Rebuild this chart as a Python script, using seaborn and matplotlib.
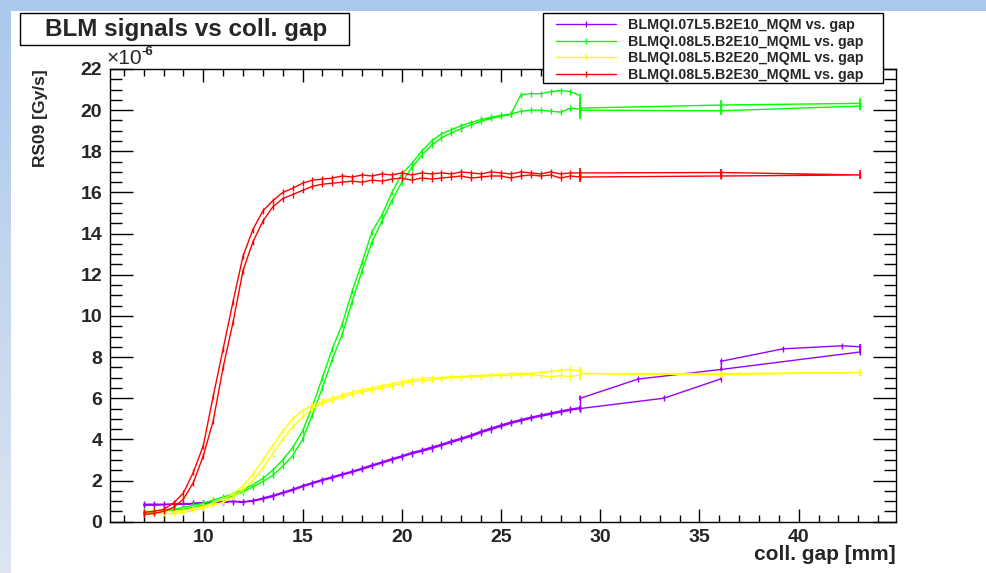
import numpy as np
import pandas as pd
import matplotlib
matplotlib.use("Agg")
import matplotlib.pyplot as plt
from matplotlib.patches import Rectangle
from matplotlib.lines import Line2D
from matplotlib.ticker import MultipleLocator
import seaborn as sns

# ---------------------------------------------------------------- data
series_names = [
    "BLMQI.07L5.B2E10_MQM vs. gap",
    "BLMQI.08L5.B2E10_MQML vs. gap",
    "BLMQI.08L5.B2E20_MQML vs. gap",
    "BLMQI.08L5.B2E30_MQML vs. gap",
]
series_colors = ["#9900FF", "#00FF00", "#FFFF00", "#FF0000"]

# fine scan grid (collimator gap, mm)
gap_fine = [7.0, 7.5, 8.0, 8.5, 9.0, 9.5, 10.0, 10.5, 11.0, 11.5,
            12.0, 12.5, 13.0, 13.5, 14.0, 14.5, 15.0, 15.5, 16.0, 16.5,
            17.0, 17.5, 18.0, 18.5, 19.0, 19.5, 20.0, 20.5, 21.0, 21.5,
            22.0, 22.5, 23.0, 23.5, 24.0, 24.5, 25.0, 25.5, 26.0, 26.5,
            27.0, 27.5, 28.0, 28.5, 29.0]

# signals in units of 1e-6 Gy/s, opening ("out") and closing ("back") branch
mqm_e10_out = [0.85, 0.85, 0.85, 0.85, 0.85, 0.87, 0.90, 0.92, 0.95, 0.97,
               0.95, 1.00, 1.10, 1.22, 1.38, 1.52, 1.70, 1.85, 2.00, 2.13,
               2.27, 2.40, 2.55, 2.70, 2.85, 3.00, 3.15, 3.30, 3.42, 3.55,
               3.70, 3.85, 4.00, 4.15, 4.33, 4.48, 4.63, 4.78, 4.90, 5.02,
               5.12, 5.22, 5.32, 5.42, 5.50]
mqm_e10_back = [0.80, 0.80, 0.82, 0.85, 0.85, 0.90, 0.92, 0.95, 0.97, 1.00,
                0.97, 1.03, 1.15, 1.28, 1.42, 1.58, 1.75, 1.90, 2.05, 2.18,
                2.32, 2.45, 2.60, 2.76, 2.90, 3.06, 3.20, 3.36, 3.48, 3.62,
                3.76, 3.92, 4.06, 4.22, 4.40, 4.55, 4.70, 4.84, 4.96, 5.08,
                5.18, 5.28, 5.38, 5.47, 5.55]
mqm_e10_coarse_gap = [29.0, 33.2, 36.1, 36.1, 39.2, 42.2, 43.1, 43.1, 36.1, 31.9, 29.0]
mqm_e10_coarse_sig = [5.50, 6.00, 6.95, 7.80, 8.40, 8.55, 8.50, 8.25, 7.40, 6.93, 6.00]
mqm_e10_coarse_err = [0.10, 0.05, 0.05, 0.05, 0.05, 0.05, 0.15, 0.10, 0.05, 0.05, 0.10]

mqml_e10_out = [0.50, 0.50, 0.55, 0.60, 0.70, 0.80, 0.90, 1.05, 1.20, 1.35,
                1.55, 1.80, 2.10, 2.50, 3.00, 3.60, 4.40, 5.60, 7.00, 8.40,
                9.60, 11.2, 12.6, 14.1, 14.9, 16.0, 16.9, 17.4, 18.0, 18.5,
                18.85, 19.05, 19.25, 19.4, 19.55, 19.65, 19.75, 19.8, 20.75, 20.8,
                20.8, 20.9, 20.95, 20.9, 20.7]
mqml_e10_back = [0.40, 0.45, 0.50, 0.55, 0.60, 0.70, 0.80, 0.95, 1.10, 1.25,
                 1.45, 1.70, 1.95, 2.25, 2.70, 3.20, 4.00, 5.20, 6.50, 7.90,
                 9.10, 10.7, 12.2, 13.6, 14.6, 15.6, 16.5, 17.2, 17.8, 18.3,
                 18.65, 18.9, 19.1, 19.3, 19.45, 19.6, 19.7, 19.8, 19.95, 20.0,
                 20.0, 19.95, 19.9, 20.1, 20.05]
mqml_e10_coarse_gap = [29.0, 36.1, 43.1, 43.1, 36.1, 29.0]
mqml_e10_coarse_sig = [20.1, 20.25, 20.33, 20.2, 19.97, 20.0]
mqml_e10_coarse_err = [0.55, 0.25, 0.25, 0.20, 0.20, 0.40]

mqml_e20_out = [0.45, 0.50, 0.50, 0.50, 0.55, 0.65, 0.75, 0.90, 1.10, 1.35,
                1.75, 2.30, 3.00, 3.70, 4.40, 5.00, 5.40, 5.65, 5.85, 6.00,
                6.15, 6.30, 6.40, 6.50, 6.60, 6.70, 6.80, 6.90, 6.95, 7.00,
                7.00, 7.05, 7.05, 7.10, 7.10, 7.15, 7.15, 7.20, 7.20, 7.20,
                7.25, 7.30, 7.35, 7.40, 7.30]
mqml_e20_back = [0.35, 0.40, 0.40, 0.40, 0.45, 0.55, 0.65, 0.80, 0.95, 1.20,
                 1.55, 2.00, 2.60, 3.30, 4.00, 4.60, 5.10, 5.50, 5.75, 5.90,
                 6.05, 6.20, 6.30, 6.40, 6.50, 6.60, 6.70, 6.80, 6.85, 6.90,
                 6.95, 7.00, 7.00, 7.05, 7.05, 7.10, 7.10, 7.10, 7.15, 7.15,
                 7.10, 7.05, 7.10, 7.05, 7.15]
mqml_e20_coarse_gap = [29.0, 36.1, 43.1, 36.1, 29.0]
mqml_e20_coarse_sig = [7.20, 7.20, 7.25, 7.15, 7.20]
mqml_e20_coarse_err = [0.30, 0.10, 0.17, 0.10, 0.30]

mqml_e30_out = [0.45, 0.50, 0.60, 0.90, 1.40, 2.40, 3.70, 6.10, 8.40, 10.7,
                12.9, 14.2, 15.1, 15.6, 16.0, 16.2, 16.45, 16.6, 16.65, 16.7,
                16.8, 16.75, 16.85, 16.8, 16.9, 16.85, 16.95, 16.85, 16.95, 16.9,
                16.95, 16.9, 17.0, 16.95, 16.9, 17.0, 16.95, 16.9, 17.0, 16.95,
                16.9, 17.0, 16.9, 16.95, 16.95]
mqml_e30_back = [0.35, 0.40, 0.50, 0.70, 1.10, 1.90, 3.20, 4.90, 7.50, 9.70,
                 12.2, 13.6, 14.6, 15.3, 15.7, 15.9, 16.1, 16.3, 16.4, 16.45,
                 16.5, 16.55, 16.5, 16.6, 16.55, 16.65, 16.7, 16.6, 16.7, 16.65,
                 16.7, 16.75, 16.8, 16.7, 16.75, 16.8, 16.8, 16.7, 16.8, 16.85,
                 16.8, 16.85, 16.7, 16.8, 16.75]
mqml_e30_coarse_gap = [29.0, 36.1, 43.1, 36.1, 29.0]
mqml_e30_coarse_sig = [16.95, 16.97, 16.85, 16.8, 16.75]
mqml_e30_coarse_err = [0.25, 0.15, 0.22, 0.15, 0.25]

x_ticks = [10, 15, 20, 25, 30, 35, 40]
y_ticks = [0, 2, 4, 6, 8, 10, 12, 14, 16, 18, 20, 22]

# ---------------------------------------------------------------- table
branches = [
    (mqm_e10_out, mqm_e10_back, mqm_e10_coarse_gap, mqm_e10_coarse_sig, mqm_e10_coarse_err),
    (mqml_e10_out, mqml_e10_back, mqml_e10_coarse_gap, mqml_e10_coarse_sig, mqml_e10_coarse_err),
    (mqml_e20_out, mqml_e20_back, mqml_e20_coarse_gap, mqml_e20_coarse_sig, mqml_e20_coarse_err),
    (mqml_e30_out, mqml_e30_back, mqml_e30_coarse_gap, mqml_e30_coarse_sig, mqml_e30_coarse_err),
]

frames = []
for name, (out, back, cg, cs, _) in zip(series_names, branches):
    gaps = list(gap_fine) + list(cg) + list(gap_fine)[::-1]
    sig = list(out) + list(cs) + list(back)[::-1]
    frames.append(pd.DataFrame({"series": name, "gap": gaps, "signal": sig}))
df = pd.concat(frames, ignore_index=True)
palette = dict(zip(series_names, series_colors))

# ---------------------------------------------------------------- style
sns.set_theme(style="ticks")
plt.rcParams["font.family"] = ["Liberation Sans", "DejaVu Sans"]
plt.rcParams["font.weight"] = "bold"
plt.rcParams["axes.labelweight"] = "bold"

W, H = 986, 573
fig = plt.figure(figsize=(W / 100, H / 100), dpi=100, facecolor="white")

def fx(px):
    return px / W

def fy(py):
    return 1 - py / H

# slide-style background: blue band on top, fading strip on the left
grad = np.linspace(0, 1, 256).reshape(-1, 1)
bg = fig.add_axes([0, 0, fx(11), 1], zorder=-5)
top_c = np.array([0.667, 0.784, 0.925])
bot_c = np.array([0.867, 0.898, 0.945])
bg.imshow(top_c + (bot_c - top_c) * grad[:, :, None], aspect="auto",
          extent=(0, 1, 0, 1), origin="upper")
bg.axis("off")
fig.add_artist(Rectangle((0, fy(11)), 1, 11 / H, transform=fig.transFigure,
                         facecolor="#AAC8EC", edgecolor="none", zorder=-4))

ax = fig.add_axes([fx(110), fy(521.7), fx(896) - fx(110), (521.7 - 69) / H])

sns.lineplot(data=df, x="gap", y="signal", hue="series", palette=palette,
             sort=False, estimator=None, legend=False, ax=ax,
             linewidth=1.0, marker="|", markersize=5, markeredgewidth=1.0)
for line in ax.lines:
    line.set_markeredgecolor(line.get_color())

for color, (_, _, cg, cs, ce) in zip(series_colors, branches):
    ax.errorbar(cg, cs, yerr=ce, fmt="none", ecolor=color, elinewidth=1.2,
                capsize=0)

ax.set_xlim(5.3, 44.9)
ax.set_ylim(0, 22)
ax.set_xticks(x_ticks)
ax.set_yticks(y_ticks)
ax.xaxis.set_minor_locator(MultipleLocator(1))
ax.yaxis.set_minor_locator(MultipleLocator(0.5))
ax.set_xlabel("")
ax.set_ylabel("")
ax.tick_params(which="both", direction="in", top=True, right=True,
               color="black", width=1.0, labelsize=14, pad=5.5)
ax.xaxis.set_tick_params(which="major", length=9.5)
ax.xaxis.set_tick_params(which="minor", length=4.8)
ax.yaxis.set_tick_params(which="major", length=16.5)
ax.yaxis.set_tick_params(which="minor", length=8.6)
for lab in ax.get_xticklabels() + ax.get_yticklabels():
    lab.set_fontweight("bold")
for sp in ax.spines.values():
    sp.set_color("black")
    sp.set_linewidth(1.0)

# axis titles, ROOT style at the ends of the axes
fig.text(fx(40), fy(69), "RS09 [Gy/s]", rotation=90, ha="center", va="top",
         fontsize=12.5, fontweight="bold")
fig.text(fx(896), fy(554), "coll. gap [mm]", ha="right", va="center",
         fontsize=15, fontweight="bold")
fig.text(fx(107), fy(59), "\u00d710", ha="left", va="center", fontsize=15,
         fontweight="normal")
fig.text(fx(142), fy(52), "-6", ha="left", va="center", fontsize=9.5,
         fontweight="bold")

# title box
fig.add_artist(Rectangle((fx(20), fy(45)), fx(349) - fx(20), (45 - 13) / H,
                         transform=fig.transFigure, facecolor="white",
                         edgecolor="black", linewidth=1.0, zorder=3))
fig.text(fx(186), fy(29.5), "BLM signals vs coll. gap", ha="center",
         va="center", fontsize=17.5, fontweight="bold", zorder=4)

# legend box
fig.add_artist(Rectangle((fx(543), fy(83)), fx(883) - fx(543), (83 - 13) / H,
                         transform=fig.transFigure, facecolor="white",
                         edgecolor="black", linewidth=1.0, zorder=3))
handles = [Line2D([], [], color=c, lw=1.0, marker="|", markersize=5,
                  markeredgecolor=c) for c in series_colors]
leg = fig.legend(handles, series_names, loc="upper left",
                 bbox_to_anchor=(fx(545), fy(7)), bbox_transform=fig.transFigure,
                 frameon=False, handlelength=4.2,
                 handletextpad=0.85, labelspacing=0.2, borderpad=0.25,
                 numpoints=1, prop={"weight": "bold", "size": 10.3})
leg.set_zorder(5)

fig.savefig("out.png", dpi=100, facecolor="white")
